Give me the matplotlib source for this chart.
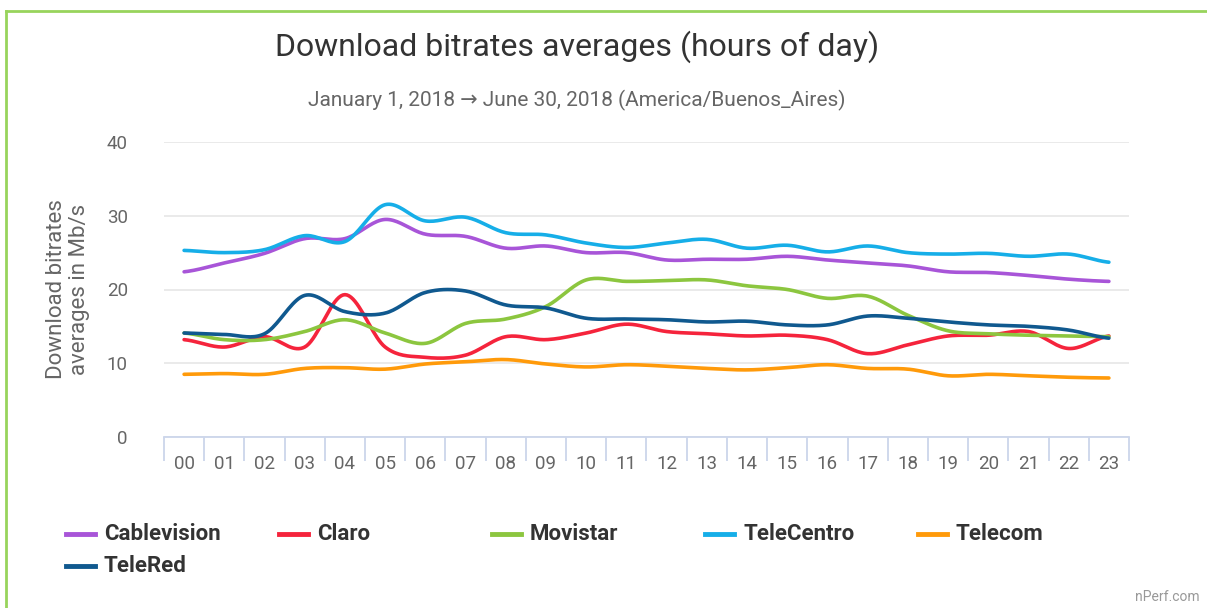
"""
Download bitrates averages by hour of day, per ISP (nPerf, Argentina H1 2018)
"""

import matplotlib.pyplot as plt
from matplotlib.lines import Line2D
import numpy as np

plt.rcParams['font.family'] = ['Roboto', 'DejaVu Sans']

hours = ['%02d' % h for h in range(24)]

cablevision = [22.4, 23.6, 24.9, 26.9, 26.9, 29.5, 27.5, 27.2, 25.6, 25.9, 25.0, 25.0,
               24.0, 24.1, 24.1, 24.5, 24.0, 23.6, 23.2, 22.4, 22.3, 21.9, 21.4, 21.1]
claro = [13.2, 12.2, 13.6, 12.2, 19.3, 12.2, 10.8, 11.1, 13.6, 13.2, 14.1, 15.3,
         14.3, 14.0, 13.7, 13.8, 13.2, 11.3, 12.5, 13.7, 13.8, 14.3, 12.0, 13.7]
movistar = [14.1, 13.2, 13.2, 14.3, 15.9, 14.1, 12.7, 15.4, 16.0, 17.7, 21.3, 21.1,
            21.2, 21.3, 20.5, 20.0, 18.8, 19.1, 16.5, 14.4, 14.0, 13.8, 13.7, 13.6]
telecentro = [25.3, 25.0, 25.4, 27.3, 26.5, 31.5, 29.3, 29.8, 27.7, 27.4, 26.3, 25.7,
              26.3, 26.8, 25.6, 26.0, 25.1, 25.9, 25.0, 24.8, 24.9, 24.5, 24.8, 23.7]
telecom = [8.5, 8.6, 8.5, 9.3, 9.4, 9.2, 9.9, 10.2, 10.5, 9.9, 9.5, 9.8,
           9.6, 9.3, 9.1, 9.4, 9.8, 9.3, 9.2, 8.3, 8.5, 8.3, 8.1, 8.0]
telered = [14.1, 13.9, 14.0, 19.2, 17.0, 16.8, 19.6, 19.8, 17.9, 17.5, 16.1, 16.0,
           15.9, 15.6, 15.7, 15.2, 15.2, 16.4, 16.1, 15.6, 15.2, 15.0, 14.5, 13.4]

names = ['Cablevision', 'Claro', 'Movistar', 'TeleCentro', 'Telecom', 'TeleRed']
series = [cablevision, claro, movistar, telecentro, telecom, telered]
colors = ['#a855d8', '#f5243c', '#8cc63f', '#16aee8', '#ff9a0a', '#10598f']


def spline(y, steps=20):
    # catmull-rom smoothing between the points, for the curved look only
    y = np.asarray(y, dtype=float)
    n = len(y)
    p = np.concatenate([[y[0]], y, [y[-1]]])
    xs, ys = [], []
    t = np.linspace(0, 1, steps, endpoint=False)
    for i in range(n - 1):
        p0, p1, p2, p3 = p[i], p[i + 1], p[i + 2], p[i + 3]
        m1 = (p2 - p0) / 2
        m2 = (p3 - p1) / 2
        h00 = 2 * t**3 - 3 * t**2 + 1
        h10 = t**3 - 2 * t**2 + t
        h01 = -2 * t**3 + 3 * t**2
        h11 = t**3 - t**2
        xs.append(i + t)
        ys.append(h00 * p1 + h10 * m1 + h01 * p2 + h11 * m2)
    xs.append([n - 1])
    ys.append([y[-1]])
    return np.concatenate(xs), np.concatenate(ys)


fig = plt.figure(figsize=(12.07, 6.08), dpi=100)
W, H = 1207, 608

ax = fig.add_axes([164 / W, (H - 437) / H, 965 / W, 295 / H])

for vals, col in zip(series, colors):
    sx, sy = spline(vals)
    ax.plot(sx, sy, color=col, lw=2.6, solid_capstyle='round', zorder=3)

ax.set_xlim(-0.5, 23.5)
ax.set_ylim(0, 40)
ax.set_yticks([0, 10, 20, 30, 40])
ax.grid(axis='y', color='#e6e6e6', lw=1.2)
ax.set_axisbelow(True)
for s in ['top', 'right', 'left']:
    ax.spines[s].set_visible(False)
ax.spines['bottom'].set_color('#ccd6eb')
ax.spines['bottom'].set_linewidth(1.3)

ax.set_xticks(np.arange(-0.5, 24, 1), minor=False)
ax.set_xticklabels([])
ax.tick_params(axis='x', which='major', length=17, color='#ccd6eb', width=1.3)
ax.set_xticks(np.arange(24), minor=True)
ax.set_xticklabels(hours, minor=True)
ax.tick_params(axis='x', which='minor', length=0, pad=13, labelsize=13.5,
               labelcolor='#666666')
ax.tick_params(axis='y', length=0, pad=26, labelsize=13.5, labelcolor='#666666')

ax.set_ylabel('Download bitrates\naverages in Mb/s', fontsize=16, color='#666666',
              labelpad=12, linespacing=1.1)

fig.text(577 / W, 1 - 47 / H, 'Download bitrates averages (hours of day)',
         ha='center', va='center', fontsize=23, color='#333333')
fig.text(577 / W, 1 - 100 / H,
         'January 1, 2018 \u2192 June 30, 2018 (America/Buenos_Aires)',
         ha='center', va='center', fontsize=15, color='#666666')

# legend drawn by hand to mirror the wrapped layout
for i, (name, col) in enumerate(zip(names, colors)):
    row, c = divmod(i, 5)
    x0 = 66 + 213 * c
    y0 = 534 + 32 * row
    fig.add_artist(Line2D([x0 / W, (x0 + 29) / W], [1 - y0 / H, 1 - y0 / H],
                          color=col, lw=3.5, transform=fig.transFigure))
    fig.text((x0 + 38) / W, 1 - y0 / H, name, ha='left', va='center',
             fontsize=16, fontweight='bold', color='#333333')

fig.text(1200 / W, 1 - 597 / H, 'nPerf.com', ha='right', va='center',
         fontsize=10, color='#999999')

# green frame of the widget
fig.add_artist(Line2D([6 / W, 1], [1 - 11 / H, 1 - 11 / H], color='#98d45c',
                      lw=2, transform=fig.transFigure))
fig.add_artist(Line2D([6 / W, 6 / W], [0, 1 - 11 / H], color='#98d45c',
                      lw=2, transform=fig.transFigure))

fig.savefig('out.png', dpi=100)
